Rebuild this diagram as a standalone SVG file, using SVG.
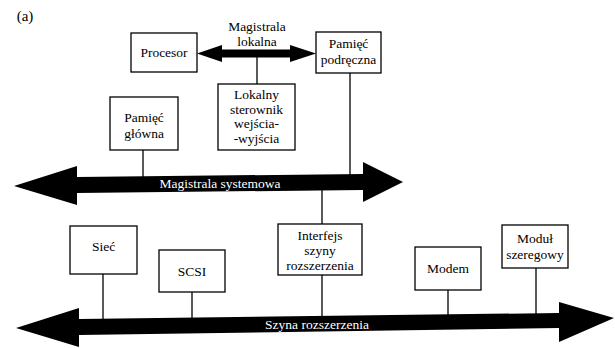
<svg xmlns="http://www.w3.org/2000/svg" width="615" height="348" viewBox="0 0 615 348" font-family="'Liberation Serif', 'Times New Roman', 'DejaVu Serif', serif">
  <style>
    .box { fill: #fff; stroke: #000; stroke-width: 1.3; }
    .wire { stroke: #000; stroke-width: 1.3; fill: none; }
    .bus { fill: #000; stroke: none; }
    .lbl { font-family: 'Liberation Serif', 'Times New Roman', 'DejaVu Serif', serif; font-size: 13.5px; fill: #000; text-anchor: middle; }
    .inv { fill: #fff; }
  </style>
  <rect width="615" height="348" fill="#fff"/>

  <text class="lbl" x="25" y="21" style="font-size:15px">(a)</text>

  <!-- buses and tap lines -->
  <g id="connectors">
    <!-- local bus -->
    <polygon class="bus" points="197,53.5 222,45 222,49.5 290,49.5 290,45 316,53.5 290,62 290,57.5 222,57.5 222,62"/>
    <text class="lbl" x="257" y="31">Magistrala</text>
    <text class="lbl" x="257" y="46">lokalna</text>
    <line class="wire" x1="257" y1="57" x2="257" y2="84"/>

    <!-- system bus -->
    <polygon class="bus" points="14,186 77,166 77,177 363,174 363,162 403,182 363,202 363,190 77,193 77,205"/>
    <text class="lbl inv" x="220" y="188">Magistrala systemowa</text>
    <line class="wire" x1="143" y1="150" x2="143" y2="177"/>
    <line class="wire" x1="350" y1="73" x2="350" y2="175"/>
    <line class="wire" x1="322" y1="190" x2="322" y2="224"/>

    <!-- expansion bus -->
    <polygon class="bus" points="16,328 79,308 79,319 559,313 559,302 614,318 559,342 559,328 79,335 79,347"/>
    <text class="lbl inv" x="317" y="329">Szyna rozszerzenia</text>
    <line class="wire" x1="103" y1="274" x2="103" y2="320"/>
    <line class="wire" x1="192" y1="292" x2="192" y2="319"/>
    <line class="wire" x1="322" y1="275" x2="322" y2="317"/>
    <line class="wire" x1="448" y1="290" x2="448" y2="316"/>
    <line class="wire" x1="536" y1="268" x2="536" y2="315"/>
  </g>

  <g id="procesor">
    <rect class="box" x="131" y="33" width="66" height="39"/>
    <text class="lbl" x="164" y="57">Procesor</text>
  </g>

  <g id="pamiec-podreczna">
    <rect class="box" x="316" y="32" width="65" height="41"/>
    <text class="lbl" x="348.5" y="48">Pamięć</text>
    <text class="lbl" x="348.5" y="64">podręczna</text>
  </g>

  <g id="lokalny-sterownik">
    <rect class="box" x="218" y="84" width="77" height="66"/>
    <text class="lbl" x="256.5" y="99">Lokalny</text>
    <text class="lbl" x="256.5" y="113.5">sterownik</text>
    <text class="lbl" x="256.5" y="128">wejścia-</text>
    <text class="lbl" x="256.5" y="142.5">-wyjścia</text>
  </g>

  <g id="pamiec-glowna">
    <rect class="box" x="110" y="97" width="68" height="53"/>
    <text class="lbl" x="144" y="122">Pamięć</text>
    <text class="lbl" x="144" y="138">główna</text>
  </g>

  <g id="siec">
    <rect class="box" x="70" y="226" width="67" height="48"/>
    <text class="lbl" x="103.5" y="251">Sieć</text>
  </g>

  <g id="scsi">
    <rect class="box" x="159" y="250" width="66" height="42"/>
    <text class="lbl" x="192" y="276">SCSI</text>
  </g>

  <g id="interfejs">
    <rect class="box" x="278" y="224" width="84" height="51"/>
    <text class="lbl" x="320" y="240">Interfejs</text>
    <text class="lbl" x="320" y="255">szyny</text>
    <text class="lbl" x="320" y="270">rozszerzenia</text>
  </g>

  <g id="modem">
    <rect class="box" x="415" y="247" width="66" height="43"/>
    <text class="lbl" x="448" y="273">Modem</text>
  </g>

  <g id="modul-szeregowy">
    <rect class="box" x="502" y="225" width="66" height="43"/>
    <text class="lbl" x="535" y="243">Moduł</text>
    <text class="lbl" x="535" y="259">szeregowy</text>
  </g>
</svg>
